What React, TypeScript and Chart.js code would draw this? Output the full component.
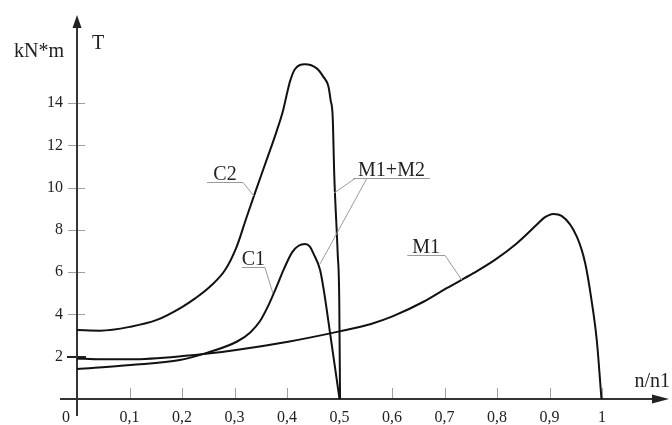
import React, { useEffect, useRef } from "react";
import { Chart, registerables } from "chart.js";

Chart.register(...registerables);

// ---- data ----
const seriesNames = ["C2", "C1", "M1"];

const c2X = [0, 0.044, 0.102, 0.152, 0.2, 0.225, 0.253, 0.282, 0.304, 0.323, 0.339, 0.361, 0.38, 0.393, 0.399, 0.406, 0.415, 0.434, 0.4565, 0.469, 0.479, 0.483, 0.487, 0.49, 0.4965, 0.4995, 0.501];
const c2Y = [3.26, 3.23, 3.42, 3.74, 4.35, 4.76, 5.31, 6.1, 7.2, 8.6, 9.75, 11.3, 12.65, 13.7, 14.35, 15.05, 15.6, 15.83, 15.64, 15.25, 14.77, 14.14, 13.35, 10.6, 6.9, 4.7, 0];

const c1X = [0, 0.102, 0.196, 0.247, 0.305, 0.33, 0.349, 0.365, 0.38, 0.395, 0.41, 0.422, 0.434, 0.444, 0.45, 0.463, 0.471, 0.482, 0.5];
const c1Y = [1.42, 1.61, 1.84, 2.18, 2.72, 3.15, 3.7, 4.45, 5.3, 6.2, 6.95, 7.25, 7.33, 7.2, 6.9, 6.1, 5.0, 3.12, 0];

const m1X = [0, 0.044, 0.102, 0.201, 0.303, 0.402, 0.5, 0.56, 0.602, 0.66, 0.704, 0.755, 0.796, 0.838, 0.876, 0.89, 0.899, 0.907, 0.923, 0.952, 0.968, 0.98, 0.99, 0.999];
const m1Y = [1.92, 1.88, 1.88, 2.03, 2.32, 2.71, 3.2, 3.55, 3.92, 4.6, 5.24, 5.95, 6.58, 7.37, 8.25, 8.58, 8.7, 8.75, 8.66, 7.68, 6.42, 4.68, 2.79, 0];

const seriesX = [c2X, c1X, m1X];
const seriesY = [c2Y, c1Y, m1Y];

const xTickValues = [0.1, 0.2, 0.3, 0.4, 0.5, 0.6, 0.7, 0.8, 0.9, 1];
const xTickLabels = ["0,1", "0,2", "0,3", "0,4", "0,5", "0,6", "0,7", "0,8", "0,9", "1"];
const yTickValues = [2, 4, 6, 8, 10, 12, 14];
const yTickLabels = ["2", "4", "6", "8", "10", "12", "14"];

const yUnitLabel = "kN*m";
const yAxisName = "T";
const xAxisName = "n/n1";
const originLabel = "0";
const combinedLabel = "M1+M2";

// ---- scale extents ----
const X_MIN = -0.0267;
const X_MAX = 1.1276;
const Y_MIN = -0.0473;
const Y_MAX = 18.165;

const FONT = "'Liberation Serif', 'Times New Roman', serif";

// label annotations in data coordinates
const annotations = [
  { text: "C2", ux0: 0.2476, ux1: 0.3162, uy: 10.26, leaders: [[0.3162, 10.26, 0.337, 9.6]] },
  { text: "C1", ux0: 0.314, ux1: 0.358, uy: 6.24, leaders: [[0.358, 6.24, 0.373, 5.01]] },
  { text: "M1", ux0: 0.629, ux1: 0.701, uy: 6.81, leaders: [[0.701, 6.81, 0.733, 5.63]] },
  {
    text: combinedLabel,
    ux0: 0.526,
    ux1: 0.672,
    uy: 10.45,
    leaders: [
      [0.5295, 10.45, 0.4895, 9.74],
      [0.552, 10.45, 0.463, 6.39],
    ],
  },
];

const decorPlugin = {
  id: "decor",
  beforeDatasetsDraw(chart: any) {
    const { ctx, chartArea } = chart;
    const xs = chart.scales.x;
    const ys = chart.scales.y;
    const X = (v: number) => xs.getPixelForValue(v);
    const Y = (v: number) => ys.getPixelForValue(v);
    const x0 = X(0);
    const y0 = Y(0);
    ctx.save();

    // tick marks (gray)
    ctx.strokeStyle = "#a0a0a0";
    ctx.lineWidth = 1;
    xTickValues.forEach((v) => {
      const px = Math.round(X(v)) + 0.5;
      ctx.beginPath();
      ctx.moveTo(px, y0 - 11);
      ctx.lineTo(px, y0);
      ctx.stroke();
    });
    yTickValues.forEach((v) => {
      if (v === 2) return;
      const py = Math.round(Y(v)) + 0.5;
      ctx.beginPath();
      ctx.moveTo(x0 - 9, py);
      ctx.lineTo(x0 + 8, py);
      ctx.stroke();
    });
    // dark tick at 2
    ctx.strokeStyle = "#222";
    ctx.lineWidth = 2;
    ctx.beginPath();
    ctx.moveTo(x0 - 10, Math.round(Y(2)));
    ctx.lineTo(x0 + 9, Math.round(Y(2)));
    ctx.stroke();

    // axes
    ctx.strokeStyle = "#333";
    ctx.fillStyle = "#222";
    ctx.lineWidth = 2;
    // y axis
    ctx.beginPath();
    ctx.moveTo(x0, y0 + 17);
    ctx.lineTo(x0, chartArea.top + 10);
    ctx.stroke();
    ctx.beginPath();
    ctx.moveTo(x0, chartArea.top);
    ctx.lineTo(x0 - 4.5, chartArea.top + 13);
    ctx.lineTo(x0 + 4.5, chartArea.top + 13);
    ctx.closePath();
    ctx.fill();
    // x axis
    ctx.beginPath();
    ctx.moveTo(x0 - 17, y0);
    ctx.lineTo(chartArea.right - 10, y0);
    ctx.stroke();
    ctx.beginPath();
    ctx.moveTo(chartArea.right, y0);
    ctx.lineTo(chartArea.right - 17, y0 - 4.5);
    ctx.lineTo(chartArea.right - 17, y0 + 4.5);
    ctx.closePath();
    ctx.fill();
    ctx.restore();
  },
  afterDraw(chart: any) {
    const { ctx, chartArea } = chart;
    const xs = chart.scales.x;
    const ys = chart.scales.y;
    const X = (v: number) => xs.getPixelForValue(v);
    const Y = (v: number) => ys.getPixelForValue(v);
    const x0 = X(0);
    const y0 = Y(0);
    ctx.save();
    ctx.fillStyle = "#222";
    ctx.textBaseline = "alphabetic";

    // axis names
    ctx.font = `20px ${FONT}`;
    ctx.textAlign = "right";
    ctx.fillText(yUnitLabel, x0 - 13, chartArea.top + 42);
    ctx.textAlign = "left";
    ctx.fillText(yAxisName, x0 + 15, chartArea.top + 34);
    ctx.textAlign = "right";
    ctx.fillText(xAxisName, chartArea.right + 1, y0 - 12);

    // origin label
    ctx.font = `16px ${FONT}`;
    ctx.textAlign = "center";
    ctx.fillText(originLabel, x0 - 11, y0 + 23);

    // curve annotations
    annotations.forEach((a) => {
      const px0 = X(a.ux0);
      const px1 = X(a.ux1);
      const py = Math.round(Y(a.uy)) + 0.5;
      ctx.strokeStyle = "#9a9a9a";
      ctx.lineWidth = 1;
      ctx.beginPath();
      ctx.moveTo(px0, py);
      ctx.lineTo(px1, py);
      ctx.stroke();
      a.leaders.forEach((l) => {
        ctx.beginPath();
        ctx.moveTo(X(l[0]), Math.round(Y(l[1])) + 0.5);
        ctx.lineTo(X(l[2]), Y(l[3]));
        ctx.stroke();
      });
      ctx.font = `20px ${FONT}`;
      ctx.textAlign = "center";
      ctx.fillStyle = "#222";
      ctx.fillText(a.text, (px0 + px1) / 2, py - 3);
    });
    ctx.restore();
  },
};

export default function App() {
  const canvasRef = useRef<HTMLCanvasElement | null>(null);

  useEffect(() => {
    document.body.style.margin = "0";
    const canvas = canvasRef.current;
    if (!canvas) return;

    const datasets = seriesNames.map((name, i) => ({
      label: name,
      data: seriesX[i].map((xv, j) => ({ x: xv, y: seriesY[i][j] })),
      borderColor: "#111",
      borderWidth: 2,
      pointRadius: 0,
      fill: false,
      cubicInterpolationMode: "monotone" as const,
    }));

    const chart = new Chart(canvas, {
      type: "line",
      data: { datasets },
      options: {
        responsive: false,
        maintainAspectRatio: false,
        animation: false,
        layout: { padding: { top: 15, right: 3, left: 0, bottom: 0 } },
        plugins: {
          legend: { display: false },
          tooltip: { enabled: false },
        },
        scales: {
          x: {
            type: "linear",
            min: X_MIN,
            max: X_MAX,
            grid: { display: false, drawTicks: false },
            border: { display: false },
            afterBuildTicks: (s: any) => {
              s.ticks = xTickValues.map((v) => ({ value: v }));
            },
            afterFit: (s: any) => {
              s.height = 25;
            },
            ticks: {
              autoSkip: false,
              maxRotation: 0,
              padding: 8,
              color: "#222",
              font: { family: FONT, size: 16 },
              callback: (_v: any, i: number) => xTickLabels[i],
            },
          },
          y: {
            type: "linear",
            min: Y_MIN,
            max: Y_MAX,
            grid: { display: false, drawTicks: false },
            border: { display: false },
            afterBuildTicks: (s: any) => {
              s.ticks = yTickValues.map((v) => ({ value: v }));
            },
            afterFit: (s: any) => {
              s.width = 63;
            },
            ticks: {
              autoSkip: false,
              padding: 0,
              color: "#222",
              font: { family: FONT, size: 16 },
              callback: (_v: any, i: number) => yTickLabels[i],
            },
          },
        },
      },
      plugins: [decorPlugin],
    } as any);

    return () => chart.destroy();
  }, []);

  return (
    <div style={{ width: 672, height: 425, background: "#fff" }}>
      <canvas ref={canvasRef} width={672} height={425} style={{ display: "block" }} />
    </div>
  );
}
